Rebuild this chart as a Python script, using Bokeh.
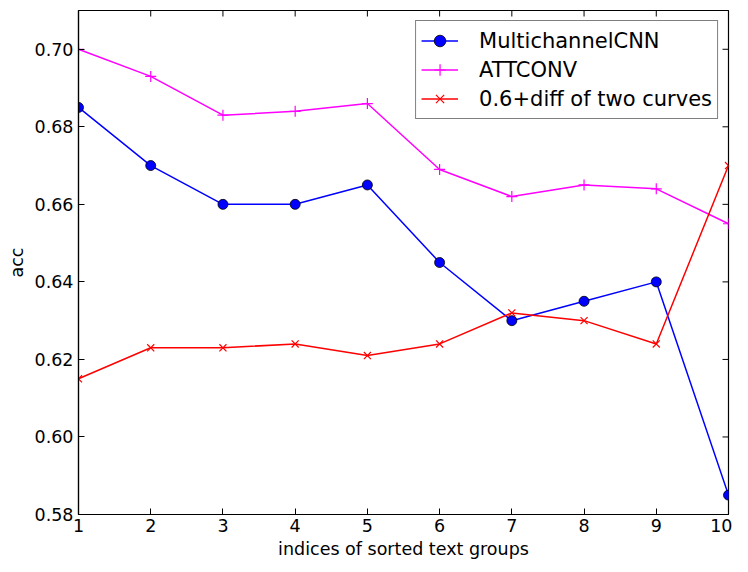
import math
from bokeh.plotting import figure
from bokeh.models import Range1d, FixedTicker, Legend, LegendItem, PrintfTickFormatter
from bokeh.embed import file_html
from bokeh.resources import INLINE

groups = [1, 2, 3, 4, 5, 6, 7, 8, 9, 10]
multichannel_cnn = [0.685, 0.670, 0.660, 0.660, 0.665, 0.645, 0.630, 0.635, 0.640, 0.585]
attconv = [0.700, 0.693, 0.683, 0.684, 0.686, 0.669, 0.662, 0.665, 0.664, 0.655]
diff_curve = [0.615, 0.623, 0.623, 0.624, 0.621, 0.624, 0.632, 0.630, 0.624, 0.670]
y_ticks = [0.58, 0.60, 0.62, 0.64, 0.66, 0.68, 0.70]
x_min, x_max = 1, 10
y_min, y_max = 0.58, 0.71

FONT = "DejaVu Sans"

p = figure(width=732, height=562,
           x_range=Range1d(x_min, x_max), y_range=Range1d(y_min, y_max),
           output_backend="svg", toolbar_location=None,
           min_border_left=78, min_border_top=10, min_border_right=4, min_border_bottom=48,
           background_fill_color="white", border_fill_color="white")
p.grid.visible = False
p.outline_line_color = "black"
p.outline_line_width = 1.2

for ax, ticks in ((p.xaxis[0], groups), (p.yaxis[0], y_ticks)):
    ax.ticker = FixedTicker(ticks=ticks)
    ax.major_tick_in = 6
    ax.major_tick_out = 0
    ax.minor_tick_line_color = None
    ax.axis_line_color = "black"
    ax.axis_line_width = 1.2
    ax.major_tick_line_color = "black"
    ax.major_label_text_font = FONT
    ax.major_label_text_font_size = "17.5px"
    ax.major_label_text_color = "black"
    ax.axis_label_text_font = FONT
    ax.axis_label_text_font_size = "17.5px"
    ax.axis_label_text_font_style = "normal"
    ax.axis_label_text_color = "black"

p.yaxis.formatter = PrintfTickFormatter(format="%.2f")
p.xaxis.axis_label = "indices of sorted text groups"
p.yaxis.axis_label = "acc"
p.xaxis.major_label_standoff = 4
p.yaxis.major_label_standoff = 5
p.xaxis.axis_label_standoff = 4
p.yaxis.axis_label_standoff = 5

# inward ticks on the top and right edges of the frame
p.ray(x=groups, y=[y_max] * len(groups), length=6, length_units="screen",
      angle=-math.pi / 2, line_color="black", line_width=1)
p.ray(x=[x_max] * len(y_ticks), y=y_ticks, length=6, length_units="screen",
      angle=math.pi, line_color="black", line_width=1)

l1 = p.line(groups, multichannel_cnn, line_color="#0000ff", line_width=1.5)
s1 = p.scatter(groups, multichannel_cnn, marker="circle", size=10,
               fill_color="#0000ff", line_color="black", line_width=0.8)
l2 = p.line(groups, attconv, line_color="#ff00ff", line_width=1.5)
s2 = p.scatter(groups, attconv, marker="cross", size=11, line_color="#ff00ff", line_width=1.2)
l3 = p.line(groups, diff_curve, line_color="#ff0000", line_width=1.5)
s3 = p.scatter(groups, diff_curve, marker="x", size=10, line_color="#ff0000", line_width=1.2)

legend = Legend(items=[
    LegendItem(label="MultichannelCNN", renderers=[l1, s1]),
    LegendItem(label="ATTCONV", renderers=[l2, s2]),
    LegendItem(label="0.6+diff of two curves", renderers=[l3, s3]),
], location="top_right", margin=10, padding=5, spacing=0,
    glyph_width=37, glyph_height=29, label_standoff=21,
    label_text_font=FONT, label_text_font_size="21px", label_text_color="black",
    border_line_color="black", border_line_width=1.2, background_fill_alpha=1.0)
p.add_layout(legend, "center")

open("out.html", "w").write(file_html(p, INLINE))
